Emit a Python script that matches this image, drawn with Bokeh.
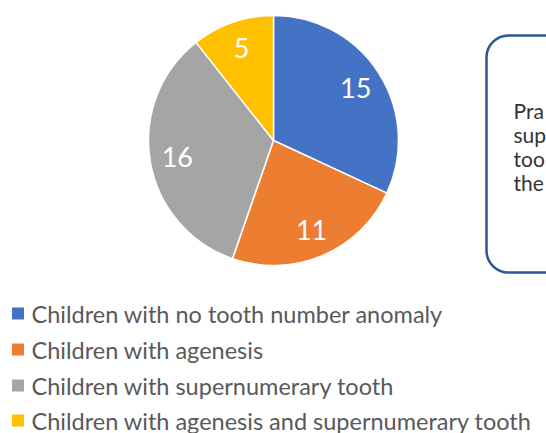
import math
from bokeh.plotting import figure
from bokeh.models import Range1d, BoxAnnotation, ColumnDataSource
from bokeh.core.properties import value
from bokeh.embed import file_html
from bokeh.resources import INLINE

categories = ["Children with no tooth number anomaly", "Children with agenesis",
              "Children with supernumerary tooth", "Children with agenesis and supernumerary tooth"]
counts = [15, 11, 16, 5]
colors = ["#4472C4", "#ED7D31", "#A5A5A5", "#FFC000"]
box_lines = ["Pra", "sup", "too", "the"]

W, H = 546, 433
p = figure(width=W, height=H, output_backend="svg", toolbar_location=None,
           x_range=Range1d(0, 546), y_range=Range1d(0, 433),
           min_border=0, outline_line_color=None)
p.axis.visible = False
p.grid.visible = False

FONT = value("Lato")

# pie
cx, cy, R = 273, 293, 125
total = sum(counts)
starts, ends, lx, ly = [], [], [], []
a = math.pi / 2
for c in counts:
    sweep = 2 * math.pi * c / total
    starts.append(a)
    ends.append(a - sweep)
    mid = a - sweep / 2
    lx.append(cx + 0.78 * R * math.cos(mid))
    ly.append(cy + 0.78 * R * math.sin(mid))
    a -= sweep
src = ColumnDataSource(dict(start=starts, end=ends, color=colors,
                            lx=lx, ly=ly, lab=[str(c) for c in counts]))
p.wedge(x=cx, y=cy, radius=R, start_angle="start", end_angle="end", direction="clock",
        fill_color="color", line_color="white", line_width=1.5, source=src)
p.text(x="lx", y="ly", text="lab", source=src, text_color="white", text_font=FONT,
       text_font_size="27px", text_align="center", text_baseline="middle")

# box
box = BoxAnnotation(left=486, right=620, top=398, bottom=161, fill_alpha=0,
                    line_color="#2F5597", line_alpha=1, line_width=2.5, border_radius=22)
p.add_layout(box)
p.text(x=[513] * 4, y=[433 - v for v in (110, 134, 158, 182)], text=box_lines,
       text_color="#333333", text_font=FONT, text_font_size="21px", text_baseline="alphabetic")

# legend
ly_leg = [433 - v for v in (313, 349, 385, 420)]
p.scatter(x=[17.5] * 4, y=ly_leg, marker="square", size=12, fill_color=colors, line_color=None)
p.text(x=[31] * 4, y=ly_leg, text=categories, text_color="#595959", text_font=FONT,
       text_font_size="23.5px", text_baseline="middle")

open("out.html", "w").write(file_html(p, INLINE))
